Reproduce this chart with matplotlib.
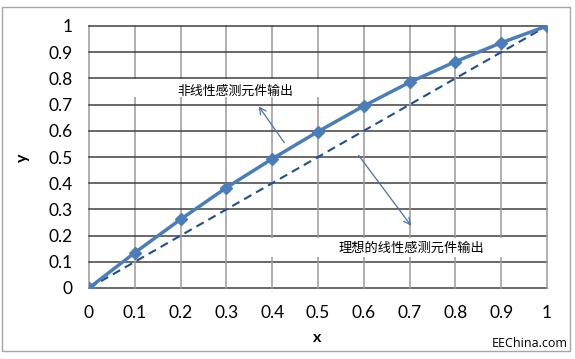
import matplotlib
matplotlib.use("Agg")
import matplotlib.pyplot as plt
from matplotlib.patches import Rectangle
import numpy as np

# Data
x_vals = [0, 0.1, 0.2, 0.3, 0.4, 0.5, 0.6, 0.7, 0.8, 0.9, 1.0]
nonlinear = [0, 0.135, 0.262, 0.383, 0.493, 0.597, 0.695, 0.785, 0.864, 0.936, 1.0]
ideal = [0, 0.1, 0.2, 0.3, 0.4, 0.5, 0.6, 0.7, 0.8, 0.9, 1.0]
ticks = [0, 0.1, 0.2, 0.3, 0.4, 0.5, 0.6, 0.7, 0.8, 0.9, 1]
tick_labels = ["0", "0.1", "0.2", "0.3", "0.4", "0.5", "0.6", "0.7", "0.8", "0.9", "1"]
label_nonlinear = "非线性感测元件输出"
label_ideal = "理想的线性感测元件输出"

cjk = ["Noto Sans CJK SC", "DejaVu Sans"]

fig = plt.figure(figsize=(5.75, 3.59), dpi=100)
fig.patch.set_facecolor("white")
W, H = 575, 359
# outer chart border
fig.add_artist(Rectangle((2 / W, 1 - 351 / H), 568 / W, 344 / H, transform=fig.transFigure,
                         fill=False, edgecolor="#a6a6a6", lw=1.0))

ax = fig.add_axes([89 / W, 1 - 288 / H, 458 / W, 262 / H])
ax.set_xlim(0, 1)
ax.set_ylim(0, 1)
ax.set_xticks(ticks)
ax.set_yticks(ticks)
ax.set_xticklabels(tick_labels, family="Lato", fontsize=12.5)
ax.set_yticklabels(tick_labels, family="Lato", fontsize=12.5)
ax.tick_params(length=0, pad=12)
ax.tick_params(axis="x", pad=12)

for t in ticks:
    ax.axhline(t, color="#404040", lw=1.1, zorder=0.5, clip_on=False)
    ax.axvline(t, color="#9a9a9a", lw=1.1, zorder=0.5, clip_on=False)
for s in ax.spines.values():
    s.set_visible(False)

# white boxes behind labels
ax.add_patch(Rectangle((0.006, 0.729), 0.553, 0.07, facecolor="white", edgecolor="none", zorder=1))
ax.add_patch(Rectangle((0.395, 0.118), 0.579, 0.073, facecolor="white", edgecolor="none", zorder=1))

ax.plot(x_vals, ideal, color="#1f4f8f", lw=1.5, dashes=(4, 2.6), zorder=3)
ax.plot(x_vals, nonlinear, color="#4a7ebb", lw=2.5, marker="D", markersize=6,
        markerfacecolor="#4a7ebb", markeredgecolor="#4a7ebb", zorder=4)

ax.text(0.32, 0.75, label_nonlinear, family=cjk, fontsize=9.3, ha="center", va="center", zorder=2)
ax.text(0.705, 0.153, label_ideal, family=cjk, fontsize=9.5, ha="center", va="center", zorder=2)

ax.annotate("", xy=(0.367, 0.702), xytext=(0.43, 0.546),
            arrowprops=dict(arrowstyle="->", color="#4a70a8", lw=0.9, mutation_scale=12), zorder=2)
ax.annotate("", xy=(0.707, 0.229), xytext=(0.585, 0.515),
            arrowprops=dict(arrowstyle="->", color="#4a70a8", lw=0.9, mutation_scale=12), zorder=2)

fig.text(317 / W, 1 - 338 / H, "x", family="Lato", fontsize=11.5, fontweight="bold", ha="center", va="center")
fig.text(23 / W, 1 - 158 / H, "y", family="Lato", fontsize=11.5, fontweight="bold", ha="center", va="center",
         rotation=90)
fig.text(568 / W, 1 - 350 / H, "EEChina.com", family="Open Sans", fontsize=9, ha="right", va="bottom")

fig.savefig("out.png", dpi=100)
